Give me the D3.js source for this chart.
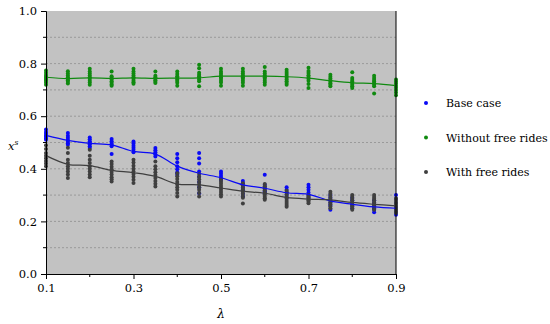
<!DOCTYPE html>
<html>
<head>
<meta charset="utf-8">
<script src="https://cdn.jsdelivr.net/npm/d3@7"></script>
<style>
  body { margin: 0; background: #fff; }
</style>
</head>
<body>
<div id="chart"></div>
<script>
// lambda values on the x axis
var lambdas = [0.1, 0.15, 0.2, 0.25, 0.3, 0.35, 0.4, 0.45, 0.5, 0.55, 0.6, 0.65, 0.7, 0.75, 0.8, 0.85, 0.9]

// individual runs, one list per lambda
var baseDots = [
  [0.549, 0.54, 0.533, 0.527, 0.522, 0.516, 0.51],
  [0.536, 0.526, 0.518, 0.51, 0.503, 0.497, 0.491],
  [0.519, 0.512, 0.505, 0.499, 0.493, 0.486, 0.479],
  [0.513, 0.505, 0.498, 0.492, 0.486, 0.456],
  [0.504, 0.496, 0.488, 0.48, 0.472, 0.463],
  [0.479, 0.471, 0.463, 0.455, 0.447],
  [0.456, 0.44, 0.425, 0.41, 0.398, 0.387, 0.377],
  [0.46, 0.44, 0.42, 0.39, 0.37, 0.35, 0.33, 0.307],
  [0.39, 0.382, 0.374, 0.366, 0.358],
  [0.354, 0.345, 0.336, 0.327, 0.318, 0.305, 0.295],
  [0.377, 0.339, 0.331, 0.323, 0.315, 0.307],
  [0.33, 0.32, 0.31, 0.3, 0.29],
  [0.339, 0.33, 0.32, 0.31, 0.3, 0.29],
  [0.3, 0.29, 0.28, 0.27, 0.26, 0.244],
  [0.29, 0.28, 0.27, 0.26, 0.25],
  [0.28, 0.27, 0.26, 0.25, 0.244, 0.235],
  [0.3, 0.285, 0.27, 0.255, 0.245, 0.235, 0.225]
]
var withoutDots = [
  [0.774, 0.765, 0.757, 0.75, 0.745, 0.74, 0.735, 0.728, 0.72],
  [0.771, 0.762, 0.755, 0.748, 0.742, 0.737, 0.731, 0.724],
  [0.78, 0.77, 0.762, 0.755, 0.748, 0.742, 0.735, 0.728, 0.72],
  [0.77, 0.752, 0.746, 0.74, 0.733, 0.727, 0.721, 0.716],
  [0.78, 0.77, 0.762, 0.755, 0.748, 0.742, 0.735, 0.729, 0.723],
  [0.77, 0.754, 0.748, 0.742, 0.737, 0.731, 0.726],
  [0.77, 0.76, 0.752, 0.746, 0.74, 0.734, 0.727, 0.716],
  [0.796, 0.782, 0.765, 0.758, 0.752, 0.746, 0.74, 0.733, 0.714],
  [0.78, 0.77, 0.762, 0.755, 0.748, 0.742, 0.735, 0.728, 0.716],
  [0.78, 0.77, 0.762, 0.755, 0.748, 0.742, 0.735, 0.727, 0.716],
  [0.787, 0.77, 0.762, 0.755, 0.748, 0.742, 0.735, 0.728, 0.72],
  [0.777, 0.768, 0.76, 0.753, 0.746, 0.74, 0.733, 0.726, 0.72],
  [0.784, 0.772, 0.764, 0.756, 0.749, 0.742, 0.735, 0.722, 0.707],
  [0.758, 0.75, 0.743, 0.737, 0.731, 0.725, 0.72, 0.714],
  [0.767, 0.745, 0.738, 0.732, 0.726, 0.72, 0.714, 0.707],
  [0.754, 0.745, 0.738, 0.732, 0.726, 0.72, 0.714, 0.686],
  [0.74, 0.732, 0.724, 0.716, 0.708, 0.7, 0.69, 0.68]
]
var withDots = [
  [0.49, 0.475, 0.46, 0.45, 0.44, 0.43, 0.42, 0.41],
  [0.48, 0.46, 0.434, 0.422, 0.41, 0.4, 0.39, 0.378, 0.365],
  [0.472, 0.45, 0.434, 0.422, 0.41, 0.4, 0.39, 0.378, 0.368],
  [0.428, 0.418, 0.408, 0.398, 0.388, 0.378, 0.368, 0.36, 0.352],
  [0.434, 0.424, 0.412, 0.4, 0.39, 0.38, 0.37, 0.358, 0.346],
  [0.428, 0.41, 0.398, 0.387, 0.376, 0.365, 0.354, 0.343, 0.333],
  [0.383, 0.372, 0.361, 0.35, 0.34, 0.33, 0.32, 0.308, 0.295],
  [0.38, 0.37, 0.36, 0.35, 0.34, 0.33, 0.32, 0.308, 0.295],
  [0.36, 0.352, 0.344, 0.336, 0.328, 0.32, 0.312, 0.303, 0.295],
  [0.345, 0.337, 0.329, 0.321, 0.313, 0.305, 0.297, 0.29, 0.268],
  [0.342, 0.334, 0.326, 0.318, 0.31, 0.302, 0.294, 0.288, 0.282],
  [0.317, 0.31, 0.302, 0.294, 0.286, 0.278, 0.27, 0.262, 0.256],
  [0.3, 0.295, 0.29, 0.285, 0.28, 0.275, 0.269],
  [0.313, 0.305, 0.297, 0.289, 0.281, 0.273, 0.265, 0.257, 0.25],
  [0.3, 0.293, 0.286, 0.279, 0.272, 0.265, 0.258, 0.251, 0.244],
  [0.3, 0.293, 0.286, 0.279, 0.272, 0.265, 0.258, 0.251, 0.244],
  [0.288, 0.281, 0.274, 0.267, 0.26, 0.253, 0.246, 0.239, 0.232]
]

// smoothed average lines
var baseMean = [0.527, 0.508, 0.497, 0.491, 0.466, 0.456, 0.41, 0.383, 0.366, 0.339, 0.326, 0.309, 0.303, 0.278, 0.265, 0.255, 0.25]
var withoutMean = [0.748, 0.743, 0.746, 0.744, 0.746, 0.744, 0.745, 0.746, 0.752, 0.752, 0.752, 0.75, 0.745, 0.735, 0.727, 0.724, 0.716]
var withMean = [0.45, 0.417, 0.412, 0.394, 0.385, 0.371, 0.342, 0.339, 0.327, 0.315, 0.307, 0.291, 0.285, 0.282, 0.272, 0.265, 0.259]

var seriesNames = ["Base case", "Without free rides", "With free rides"]
var xTicks = [0.1, 0.3, 0.5, 0.7, 0.9]
var xMinor = [0.2, 0.4, 0.6, 0.8]
var yTicks = [0.0, 0.2, 0.4, 0.6, 0.8, 1.0]
var yMinor = [0.1, 0.3, 0.5, 0.7, 0.9]

var width = 550, height = 324
var margin = {top: 11, right: 154, bottom: 50, left: 46}
var w = width - margin.left - margin.right,
    h = height - margin.top - margin.bottom
var serif = "DejaVu Serif"

var svg = d3.select("#chart").append("svg")
  .attr("width", width)
  .attr("height", height)
var g = svg.append("g")
  .attr("transform", "translate(" + margin.left + "," + margin.top + ")")

var x = d3.scaleLinear().domain([0.1, 0.9]).range([0, w])
var y = d3.scaleLinear().domain([0, 1]).range([h, 0])

var color = d3.scaleOrdinal()
  .domain(seriesNames)
  .range(["#0a0af5", "#108a10", "#3f3f3f"])

g.append("rect")
  .attr("width", w).attr("height", h)
  .attr("fill", "#c2c2c2")

// grid lines every 0.1
g.append("g")
  .selectAll("line")
  .data(yTicks.concat(yMinor).filter(function(d) { return d > 0 && d < 1 }))
  .enter().append("line")
    .attr("x1", 0).attr("x2", w)
    .attr("y1", function(d) { return y(d) }).attr("y2", function(d) { return y(d) })
    .attr("stroke", "#8f8f8f")
    .attr("stroke-width", 0.8)
    .attr("stroke-dasharray", "2,2")

// dots
var series = [
  {name: seriesNames[0], dots: baseDots, mean: baseMean},
  {name: seriesNames[1], dots: withoutDots, mean: withoutMean},
  {name: seriesNames[2], dots: withDots, mean: withMean}
]

series.forEach(function(s) {
  var pts = []
  s.dots.forEach(function(list, i) {
    list.forEach(function(v) { pts.push({lam: lambdas[i], v: v}) })
  })
  g.append("g")
    .selectAll("circle")
    .data(pts)
    .enter().append("circle")
      .attr("cx", function(d) { return x(d.lam) })
      .attr("cy", function(d) { return y(d.v) })
      .attr("r", 2)
      .attr("fill", color(s.name))
})

var line = d3.line()
  .x(function(d, i) { return x(lambdas[i]) })
  .y(function(d) { return y(d) })
  .curve(d3.curveCatmullRom)

series.forEach(function(s) {
  g.append("path")
    .datum(s.mean)
    .attr("d", line)
    .attr("fill", "none")
    .attr("stroke", color(s.name))
    .attr("stroke-width", 1.2)
})

// axes
var xAxis = g.append("g")
  .attr("transform", "translate(0," + h + ")")
  .call(d3.axisBottom(x).tickValues(xTicks).tickSize(5).tickPadding(5)
    .tickFormat(d3.format(".1f")))
xAxis.append("g").selectAll("line")
  .data(xMinor).enter().append("line")
    .attr("x1", function(d) { return x(d) }).attr("x2", function(d) { return x(d) })
    .attr("y1", 0).attr("y2", 3)
    .attr("stroke", "#000")

var yAxis = g.append("g")
  .call(d3.axisLeft(y).tickValues(yTicks).tickSize(5).tickPadding(4)
    .tickFormat(d3.format(".1f")))
yAxis.append("g").selectAll("line")
  .data(yMinor).enter().append("line")
    .attr("y1", function(d) { return y(d) }).attr("y2", function(d) { return y(d) })
    .attr("x1", 0).attr("x2", -3)
    .attr("stroke", "#000")

xAxis.attr("font-family", serif).attr("font-size", 11.5)
yAxis.attr("font-family", serif).attr("font-size", 11.5)
svg.selectAll(".tick text").attr("fill", "#000")
svg.selectAll(".domain").attr("stroke", "#000")

// right border
g.append("line")
  .attr("x1", w).attr("x2", w)
  .attr("y1", 0).attr("y2", h)
  .attr("stroke", "#000")

// axis titles
var yl = svg.append("text")
  .attr("x", 8).attr("y", 150)
  .attr("font-family", serif)
  .attr("font-size", 11.5)
  .attr("font-style", "italic")
yl.append("tspan").text("x")
yl.append("tspan").attr("dy", -5).attr("font-size", 7.5).text("s")

svg.append("text")
  .attr("x", margin.left + x(0.5)).attr("y", 318)
  .attr("text-anchor", "middle")
  .attr("font-family", serif)
  .attr("font-size", 12)
  .attr("font-style", "italic")
  .text("λ")

// legend
var legend = svg.selectAll(".legend")
  .data(seriesNames)
  .enter().append("g")
    .attr("class", "legend")
    .attr("transform", function(d, i) { return "translate(426," + (103 + i * 34.5) + ")" })
legend.append("circle")
  .attr("r", 2)
  .attr("fill", function(d) { return color(d) })
legend.append("text")
  .attr("x", 20).attr("y", 4)
  .attr("font-family", serif)
  .attr("font-size", 11)
  .text(function(d) { return d })
</script>
</body>
</html>
